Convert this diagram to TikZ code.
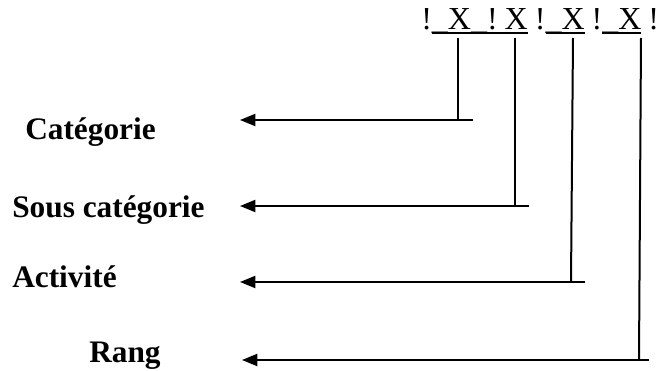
\documentclass[tikz,border=0pt]{standalone}
\usepackage{fontspec}
\setmainfont{Liberation Serif}
\usetikzlibrary{arrows.meta}

% underline placed where the underscore glyph sits
\newcommand\ulseg[1]{\setbox0\hbox{#1}\rlap{\rule[-0.125em]{\wd0}{0.05em}}\box0}
\newcommand\gap{\kern0.22em}

\begin{document}
\begin{tikzpicture}[x=0.75pt,y=-0.75pt,
  label/.style={font=\fontsize{23.5pt}{26pt}\selectfont\bfseries, inner sep=0pt, anchor=base west},
  code/.style={font=\fontsize{24pt}{27pt}\selectfont, inner sep=0pt, anchor=base west},
  link/.style={line width=1.5pt},
  pointer/.style={line width=1.5pt, -{Triangle[length=11.5pt,width=9pt]}}]
\useasboundingbox (0,0) rectangle (661,371);

% code line
\node[code] (code) at (421,30) {!\ulseg{\_X\_!\gap X}\gap!\ulseg{\_X}\gap!\ulseg{\_X}\gap!};

% labels
\node[label] (cat)  at (25,139)  {Catégorie};
\node[label] (scat) at (12,217)  {Sous catégorie};
\node[label] (act)  at (12,287)  {Activité};
\node[label] (rang) at (89,362)  {Rang};

% tops of the leaders under each X
\coordinate (t1) at (458,38);
\coordinate (t2) at (515,38);
\coordinate (t3) at (573,38);
\coordinate (t4) at (641,38);

% corners
\coordinate (c1) at (458,120);
\coordinate (c2) at (515,206);
\coordinate (c3) at (571,282);
\coordinate (c4) at (639,360);

% short overhangs to the right of each corner
\coordinate (e1) at (473,120);
\coordinate (e2) at (529,206);
\coordinate (e3) at (585,282);
\coordinate (e4) at (649,360);

% arrow tips
\coordinate (p1) at (240,120);
\coordinate (p2) at (240,206);
\coordinate (p3) at (240,282);
\coordinate (p4) at (242,360);

\draw[link] (t1) -- (c1);
\draw[link] (t2) -- (c2);
\draw[link] (t3) -- (c3);
\draw[link] (t4) -- (c4);

\draw[pointer] (e1) -- (p1);
\draw[pointer] (e2) -- (p2);
\draw[pointer] (e3) -- (p3);
\draw[pointer] (e4) -- (p4);
\end{tikzpicture}
\end{document}
